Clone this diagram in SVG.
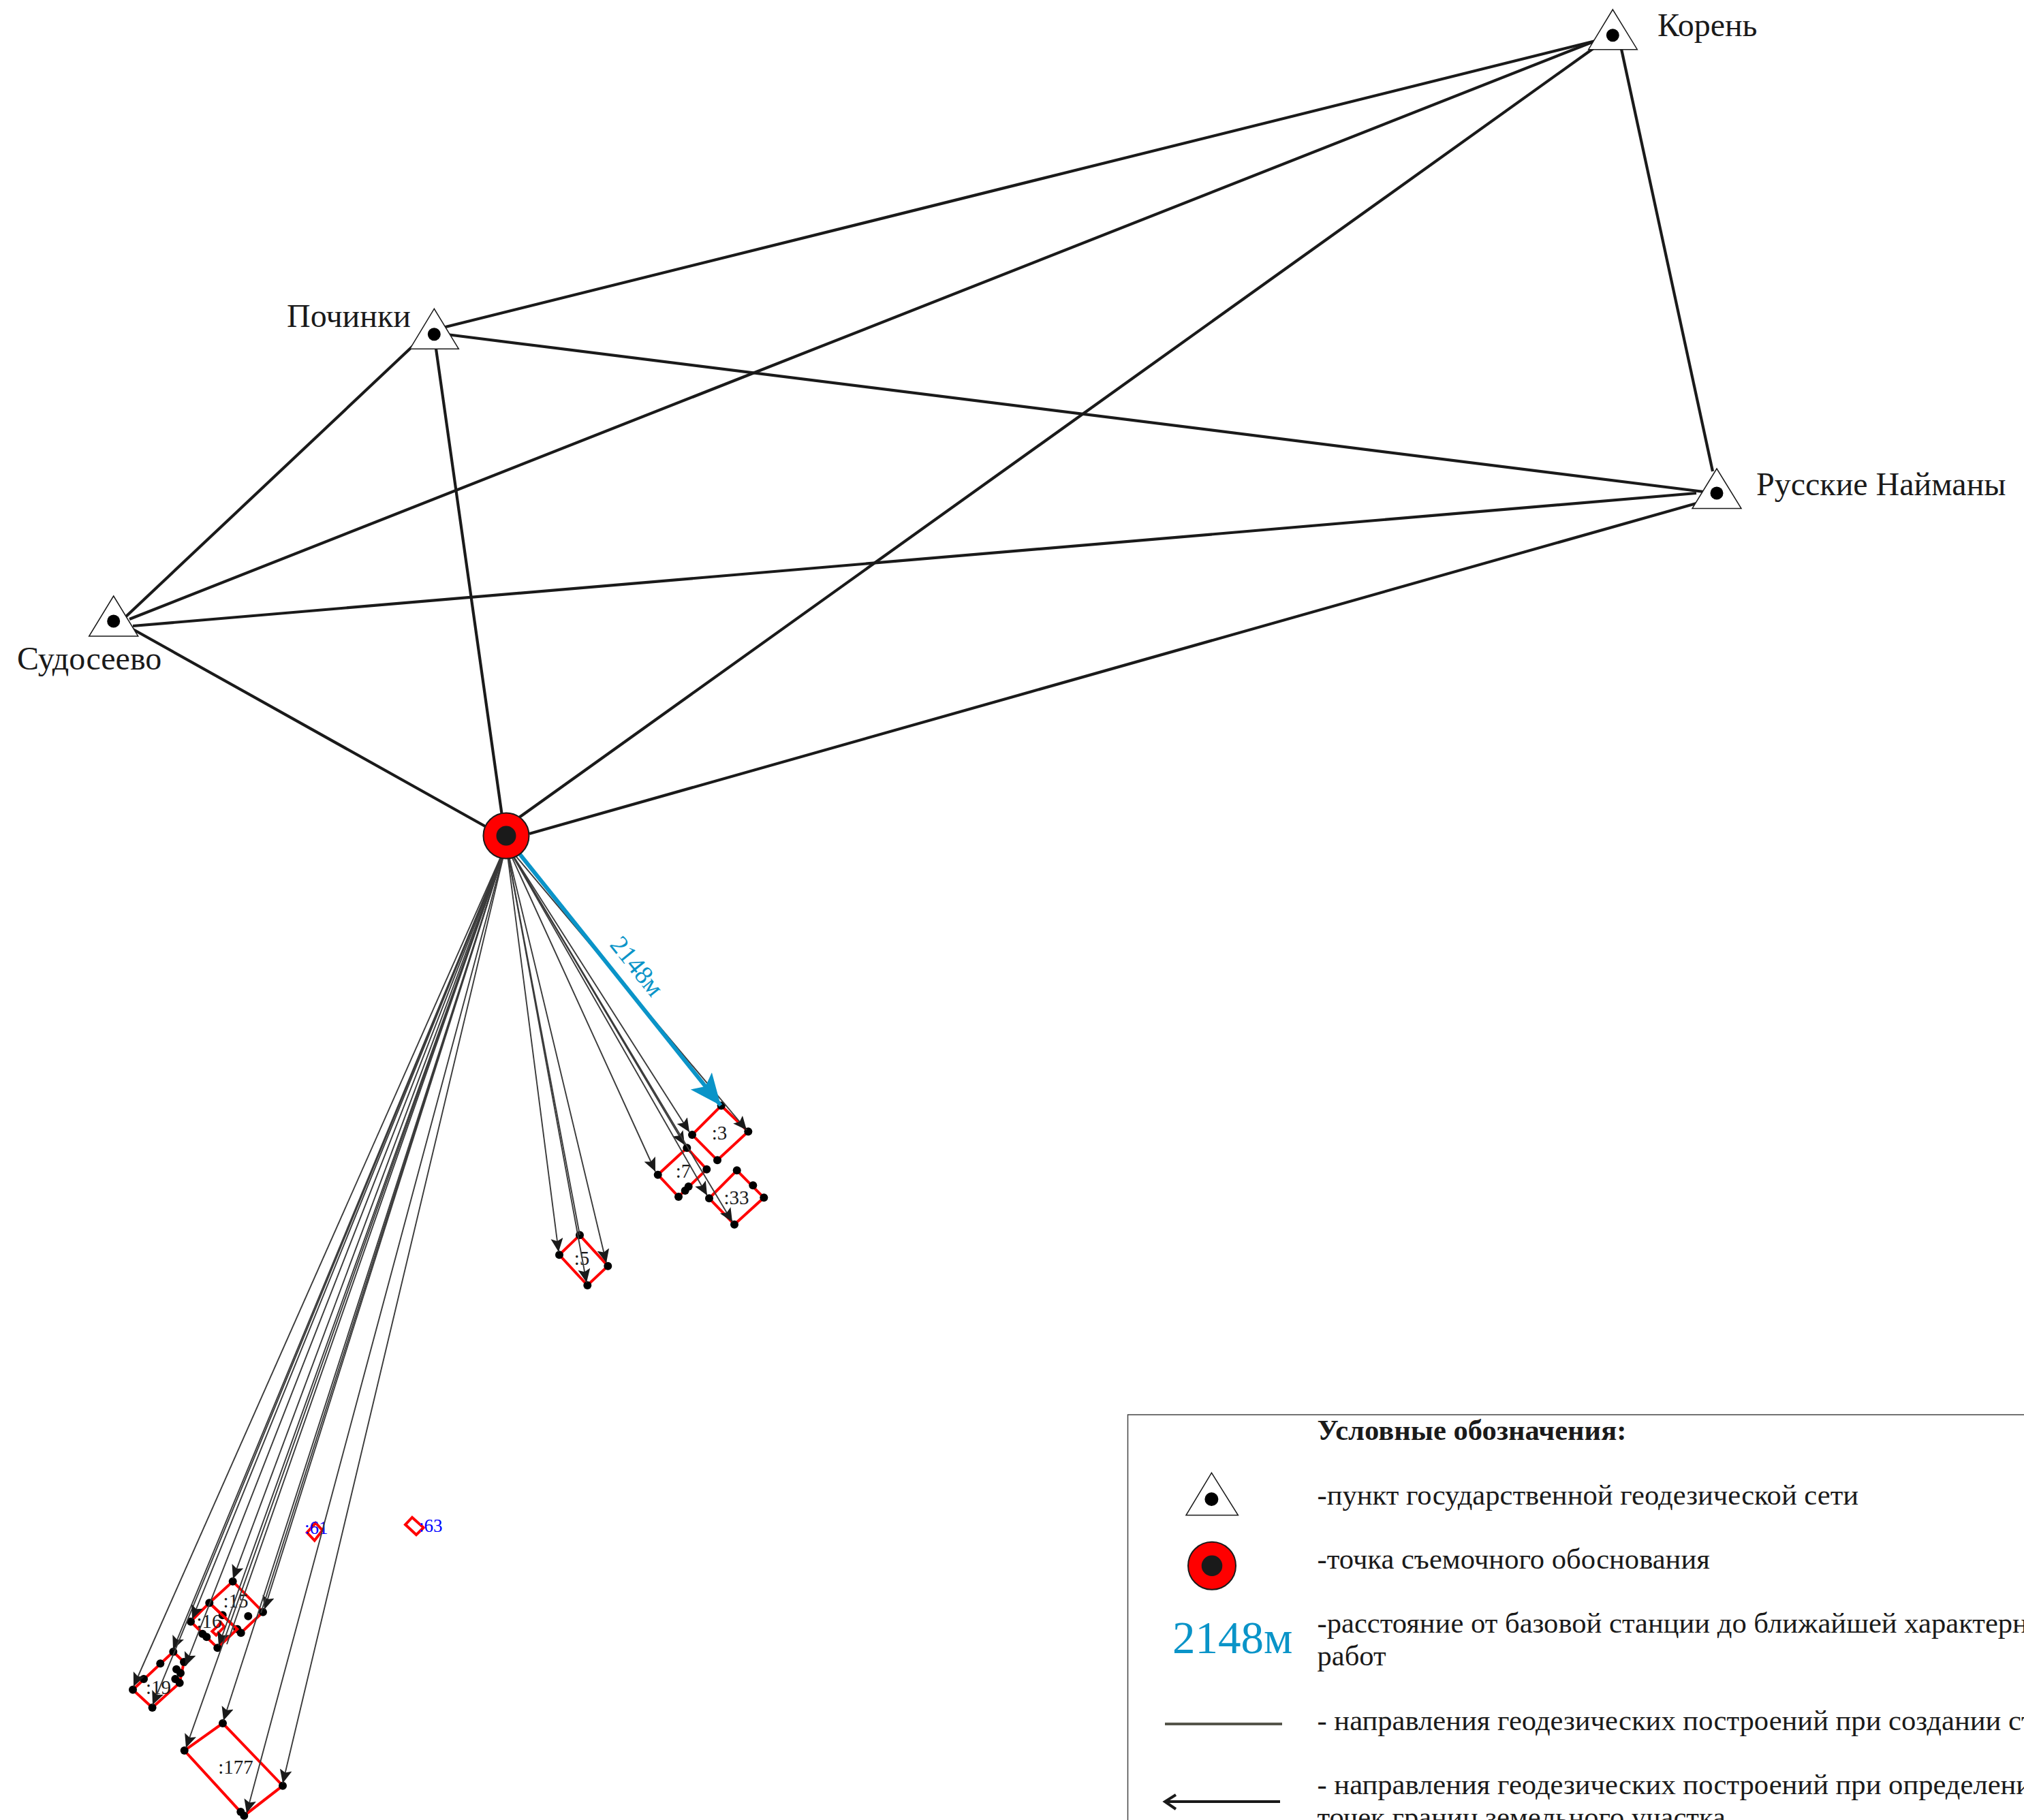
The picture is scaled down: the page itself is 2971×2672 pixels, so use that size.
<svg xmlns="http://www.w3.org/2000/svg" width="2971" height="2672" viewBox="0 0 2971 2672">
<style>
text{font-family:"Liberation Serif","Times New Roman",serif;fill:#1a1a1a}
.t{font-size:48px}
.l{font-size:42.6px}
.p{font-size:29px;text-anchor:middle}
.b{font-size:27px;fill:#0000ff}
.parcel{fill:none;stroke:#ff0000;stroke-width:4}
.dots circle{fill:#000;r:6px}
.thick line{stroke:#1a1a1a;stroke-width:4.2}
.thin line{stroke:#3a3a3a;stroke-width:1.9;marker-end:url(#h)}
.tri{fill:#fff;stroke:#1a1a1a;stroke-width:1.5}
</style>
<defs>
<marker id="h" markerUnits="userSpaceOnUse" markerWidth="22" markerHeight="20" refX="20" refY="9" orient="auto"><path d="M0 0L20 9L0 18L4 9Z" fill="#1a1a1a"/></marker>
<marker id="hb" markerUnits="userSpaceOnUse" markerWidth="50" markerHeight="50" refX="46" refY="24" orient="auto"><path d="M0 4L46 24L0 44L10 24Z" fill="#0a94c8"/></marker>
</defs>
<rect width="2971" height="2672" fill="#fff"/>

<g id="parcel-3"><polygon class="parcel" points="1058.7,1623.3 1098.3,1661.3 1053,1703.3 1016,1666"/><g class="dots"><circle cx="1058.7" cy="1623.3"/><circle cx="1098.3" cy="1661.3"/><circle cx="1053" cy="1703.3"/><circle cx="1016" cy="1666"/></g><text class="p" x="1056" y="1673">:3</text></g>
<g id="parcel-7"><polygon class="parcel" points="1008.3,1685.3 1037.3,1716.7 996,1757 965.7,1724.7"/><g class="dots"><circle cx="1008.3" cy="1685.3"/><circle cx="1037.3" cy="1716.7"/><circle cx="1010.7" cy="1742"/><circle cx="1005.7" cy="1748"/><circle cx="996" cy="1757"/><circle cx="965.7" cy="1724.7"/></g><text class="p" x="1003" y="1729">:7</text></g>
<g id="parcel-33"><polygon class="parcel" points="1081.7,1718.3 1121.3,1758.3 1078,1797.7 1041,1759.3"/><g class="dots"><circle cx="1081.7" cy="1718.3"/><circle cx="1105.3" cy="1740.3"/><circle cx="1121.3" cy="1758.3"/><circle cx="1078" cy="1797.7"/><circle cx="1041" cy="1759.3"/></g><text class="p" x="1081" y="1768">:33</text></g>
<g id="parcel-5"><polygon class="parcel" points="851,1813.3 892.3,1858.7 862.3,1887 821,1842.3"/><g class="dots"><circle cx="851" cy="1813.3"/><circle cx="892.3" cy="1858.7"/><circle cx="862.3" cy="1887"/><circle cx="821" cy="1842.3"/></g><text class="p" x="854" y="1857">:5</text></g>
<g id="parcel-15"><polygon class="parcel" points="341.7,2321.7 386,2366.7 353.7,2397.3 307.3,2353.3"/><g class="dots"><circle cx="341.7" cy="2321.7"/><circle cx="386" cy="2366.7"/><circle cx="364.3" cy="2372.7"/><circle cx="326.7" cy="2371.3"/><circle cx="348.3" cy="2391.7"/><circle cx="353.7" cy="2397.3"/></g><text class="p" x="346" y="2360">:15</text></g>
<g id="parcel-16"><polygon class="parcel" points="307.3,2353.3 348.3,2391.7 319.3,2419.3 280,2380.7"/><polygon class="parcel" points="311.3,2395 317.3,2400.7 329.3,2388.3 324,2381.7 319,2388"/><g class="dots"><circle cx="307.3" cy="2353.3"/><circle cx="297.3" cy="2398.7"/><circle cx="303.3" cy="2403.3"/><circle cx="319.3" cy="2419.3"/><circle cx="280" cy="2380.7"/></g><text class="p" x="307" y="2390">:16</text></g>
<g id="parcel-19"><polygon class="parcel" points="254.3,2425 270,2440 263.7,2470.7 223.6,2507 195,2480.7"/><g class="dots"><circle cx="254.3" cy="2425"/><circle cx="235.3" cy="2442.3"/><circle cx="211" cy="2465"/><circle cx="195" cy="2480.7"/><circle cx="270" cy="2440"/><circle cx="259" cy="2450.7"/><circle cx="265" cy="2456.3"/><circle cx="257.3" cy="2465"/><circle cx="263.7" cy="2470.7"/><circle cx="223.6" cy="2507"/></g><text class="p" x="232.5" y="2486.7">:19</text></g>
<g id="parcel-177"><polygon class="parcel" points="327,2530 415,2621.7 358.3,2665.7 270.7,2570"/><g class="dots"><circle cx="327" cy="2530"/><circle cx="415" cy="2621.7"/><circle cx="358.3" cy="2665.7"/><circle cx="353.3" cy="2660"/><circle cx="270.7" cy="2570"/></g><text class="p" x="346" y="2604">:177</text></g>
<g id="parcel-61"><polygon class="parcel" points="450.7,2250 461.7,2261.7 473.3,2246.7 463.3,2236"/><text class="b" x="447" y="2251.7">:61</text></g>
<g id="parcel-63"><polygon class="parcel" points="595,2238.3 605,2227.7 621.7,2242.7 611,2253.3"/><text class="b" x="615" y="2249">:63</text></g>

<g id="connectors">
<g class="thick">
<line x1="2342" y1="60" x2="650" y2="481"/>
<line x1="2342" y1="60" x2="190" y2="909"/>
<line x1="2346" y1="66" x2="758" y2="1203"/>
<line x1="2380" y1="72" x2="2514" y2="692"/>
<line x1="606" y1="508" x2="184" y2="906"/>
<line x1="640" y1="512" x2="737" y2="1198"/>
<line x1="656" y1="491" x2="2501" y2="722"/>
<line x1="195" y1="919" x2="2490" y2="724"/>
<line x1="190" y1="921" x2="712" y2="1213"/>
<line x1="2490" y1="739" x2="777" y2="1224"/>
</g>
<g class="thin">
<line x1="743" y1="1240" x2="1096" y2="1659"/>
<line x1="743" y1="1240" x2="1012" y2="1662"/>
<line x1="743" y1="1240" x2="1005" y2="1681"/>
<line x1="743" y1="1240" x2="962" y2="1720"/>
<line x1="743" y1="1240" x2="1038" y2="1755"/>
<line x1="743" y1="1240" x2="1075" y2="1794"/>
<line x1="743" y1="1240" x2="820" y2="1838"/>
<line x1="743" y1="1240" x2="861" y2="1883"/>
<line x1="743" y1="1240" x2="890" y2="1854"/>
<line x1="743" y1="1240" x2="851" y2="1813" style="marker-end:none"/>
<line x1="743" y1="1240" x2="196" y2="2476"/>
<line x1="743" y1="1240" x2="254" y2="2422"/>
<line x1="743" y1="1240" x2="224" y2="2503"/>
<line x1="743" y1="1240" x2="282" y2="2377"/>
<line x1="743" y1="1240" x2="272" y2="2446"/>
<line x1="743" y1="1240" x2="342" y2="2318"/>
<line x1="743" y1="1240" x2="321" y2="2416"/>
<line x1="743" y1="1240" x2="333" y2="2414" style="marker-end:none"/>
<line x1="743" y1="1240" x2="388" y2="2363"/>
<line x1="743" y1="1240" x2="383" y2="2368" style="marker-end:none"/>
<line x1="743" y1="1240" x2="273" y2="2566"/>
<line x1="743" y1="1240" x2="328" y2="2526"/>
<line x1="743" y1="1240" x2="362" y2="2662"/>
<line x1="743" y1="1240" x2="415" y2="2618"/>
</g>
<line x1="763" y1="1254" x2="1058" y2="1623" stroke="#0a94c8" stroke-width="6" marker-end="url(#hb)"/>
</g>
<text id="distance-label" x="932" y="1421" font-size="38" text-anchor="middle" dominant-baseline="middle" style="fill:#0a94c8" transform="rotate(51 932 1421)">2148м</text>

<g id="koren"><polygon class="tri" points="2367.3,14 2331.7,72.7 2403.3,72.7"/><circle cx="2367.3" cy="51.7" r="9.5" fill="#000"/><text class="t" x="2433" y="53">Корень</text></g>
<g id="pochinki"><polygon class="tri" points="637.3,453.3 601.7,512.3 673.3,512.3"/><circle cx="637.3" cy="490.7" r="9.5" fill="#000"/><text class="t" x="421" y="480">Починки</text></g>
<g id="sudoseevo"><polygon class="tri" points="166.7,875 130.7,934 202.7,934"/><circle cx="166.7" cy="912" r="9.5" fill="#000"/><text class="t" x="25" y="983">Судосеево</text></g>
<g id="naimany"><polygon class="tri" points="2520,688 2484,746.5 2556,746.5"/><circle cx="2520" cy="724" r="9.5" fill="#000"/><text class="t" x="2578" y="727">Русские Найманы</text></g>
<g id="station"><circle cx="743" cy="1227" r="33.5" fill="#ff0000" stroke="#1a1a1a" stroke-width="2"/><circle cx="743" cy="1227" r="14.5" fill="#1a1a1a"/></g>

<g id="legend">
<path d="M2972 2077H1655.5V2673" fill="none" stroke="#444" stroke-width="1.5"/>
<text class="l" x="1933.5" y="2113.5" font-weight="bold">Условные обозначения:</text>
<polygon class="tri" points="1778.4,2162.3 1741,2224.5 1817.4,2224.5"/><circle cx="1778.4" cy="2201" r="10" fill="#000"/>
<text class="l" x="1933.5" y="2209">-пункт государственной геодезической сети</text>
<circle cx="1779" cy="2298.7" r="35" fill="#ff0000" stroke="#1a1a1a" stroke-width="2"/><circle cx="1779" cy="2298.7" r="15.3" fill="#1a1a1a"/>
<text class="l" x="1933.5" y="2303">-точка съемочного обоснования</text>
<text x="1721" y="2427" font-size="67" style="fill:#0a94c8">2148м</text>
<text class="l" x="1933.5" y="2396.7">-расстояние от базовой станции до ближайшей характерн</text>
<text class="l" x="1933.5" y="2444.8">работ</text>
<line x1="1710" y1="2531" x2="1882" y2="2531" stroke="#55554a" stroke-width="4"/>
<text class="l" x="1933.5" y="2539.7">- направления геодезических построений при создании ст</text>
<line x1="1710" y1="2645" x2="1879" y2="2645" stroke="#1a1a1a" stroke-width="4"/>
<path d="M1726 2635L1710 2645L1726 2656" fill="none" stroke="#1a1a1a" stroke-width="4"/>
<text class="l" x="1933.5" y="2634">- направления геодезических построений при определени</text>
<text class="l" x="1933.5" y="2682">точек границ земельного участка</text>
</g>
</svg>
